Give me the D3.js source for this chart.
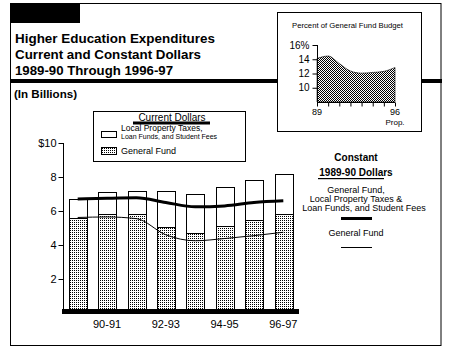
<!DOCTYPE html>
<html><head><meta charset="utf-8">
<script src="https://cdn.jsdelivr.net/npm/d3@7/dist/d3.min.js"></script>
<style>
html,body{margin:0;padding:0;background:#fff;}
text{font-family:"Liberation Sans",Arial,sans-serif;fill:#000;}
</style></head>
<body>
<svg id="c" width="451" height="350"></svg>
<script>
// ---- data ----
const categories = ["89-90","90-91","91-92","92-93","93-94","94-95","95-96","96-97"];
const tickLabels = ["90-91","92-93","94-95","96-97"];
const currentTotal = [6.7, 7.1, 7.2, 7.15, 7.0, 7.4, 7.8, 8.15];
const currentGeneralFund = [5.6, 5.85, 5.85, 5.05, 4.7, 5.1, 5.5, 5.85];
const constantTotal = [6.7, 6.75, 6.78, 6.5, 6.25, 6.3, 6.5, 6.6];
const constantGeneralFund = [5.62, 5.65, 5.55, 4.6, 4.25, 4.38, 4.55, 4.75];
const yTicks = [2, 4, 6, 8, 10];
const insetYears = [89, 90, 91, 92, 93, 94, 95, 96];
const insetPercent = [14.1, 14.45, 13.4, 12.35, 12.05, 12.15, 12.3, 12.85];
const insetTicks = [10, 12, 14, 16];

const svg = d3.select("#c");
const defs = svg.append("defs");
// dotted pattern
const pd = defs.append("pattern").attr("id","dots").attr("width",2).attr("height",2).attr("patternUnits","userSpaceOnUse");
pd.append("rect").attr("width",2).attr("height",2).attr("fill","#fff");
pd.append("rect").attr("width",1).attr("height",1).attr("fill","#000");
// checker pattern
const pc = defs.append("pattern").attr("id","check").attr("width",2).attr("height",2).attr("patternUnits","userSpaceOnUse");
pc.append("rect").attr("width",2).attr("height",2).attr("fill","#fff");
pc.append("rect").attr("width",1).attr("height",1).attr("fill","#000");
pc.append("rect").attr("x",1).attr("y",1).attr("width",1).attr("height",1).attr("fill","#000");

// frame
svg.append("rect").attr("x",10.5).attr("y",3.5).attr("width",430.5).attr("height",342).attr("fill","#fff").attr("stroke","#000");
svg.append("rect").attr("x",10).attr("y",3).attr("width",70).attr("height",20).attr("fill","#000");
svg.append("rect").attr("x",10).attr("y",79).attr("width",432).attr("height",4).attr("fill","#000");

// title
const titles = [["Higher Education Expenditures",43,200],["Current and Constant Dollars",59,186],["1989-90 Through 1996-97",75,158]];
titles.forEach(t=>{
  svg.append("text").attr("x",15).attr("y",t[1]).attr("font-size",13).attr("font-weight","bold")
    .attr("textLength",t[2]).attr("lengthAdjust","spacingAndGlyphs").text(t[0]);
});
svg.append("text").attr("x",14).attr("y",98).attr("font-size",10).attr("font-weight","bold")
  .attr("textLength",63).attr("lengthAdjust","spacingAndGlyphs").text("(In Billions)");

// ---- main chart ----
const x = d3.scaleBand().domain(categories).range([63,298]).paddingInner(0.4).paddingOuter(0.2);
const y = d3.scaleLinear().domain([0,10]).range([313,143]);
const g = svg.append("g");

// bars
g.selectAll("rect.tot").data(categories).join("rect").attr("class","tot")
  .attr("x",(d)=>Math.round(x(d))+0.5).attr("width",Math.round(x.bandwidth()))
  .attr("y",(d,i)=>Math.round(y(currentTotal[i]))+0.5).attr("height",(d,i)=>y(0)-Math.round(y(currentTotal[i])))
  .attr("fill","#fff").attr("stroke","#000");
g.selectAll("rect.gf").data(categories).join("rect").attr("class","gf")
  .attr("x",(d)=>Math.round(x(d))+0.5).attr("width",Math.round(x.bandwidth()))
  .attr("y",(d,i)=>Math.round(y(currentGeneralFund[i]))+0.5).attr("height",(d,i)=>y(0)-Math.round(y(currentGeneralFund[i])))
  .attr("fill","url(#dots)").attr("stroke","#000");

// lines
const cx = d=>x(d)+x.bandwidth()/2;
const lineT = d3.line().x((d,i)=>cx(categories[i])).y(d=>y(d)).curve(d3.curveMonotoneX);
g.append("path").attr("d",lineT(constantTotal)).attr("fill","none").attr("stroke","#000").attr("stroke-width",3);
g.append("path").attr("d",lineT(constantGeneralFund)).attr("fill","none").attr("stroke","#000").attr("stroke-width",1);

// baseline
svg.append("rect").attr("x",62).attr("y",309).attr("width",237).attr("height",5).attr("fill","#000");

// y axis
const ya = svg.append("g").attr("transform","translate(63.5,0)")
  .call(d3.axisLeft(y).tickValues(yTicks).tickSize(5).tickSizeOuter(0).tickPadding(2).tickFormat(d=>d===10?"$10":d));
ya.select(".domain").attr("d","M0,"+y(10)+"V309");
ya.selectAll("text").attr("font-size",11).attr("font-family","Liberation Sans, Arial, sans-serif");

// x axis
const xa = svg.append("g").attr("transform","translate(0,314)")
  .call(d3.axisBottom(x).tickValues(tickLabels).tickSize(0).tickPadding(6));
xa.select(".domain").remove();
xa.selectAll("text").attr("font-size",11).attr("font-family","Liberation Sans, Arial, sans-serif");

// current dollars legend
svg.append("rect").attr("x",93.5).attr("y",111.5).attr("width",152).attr("height",50).attr("fill","#fff").attr("stroke","#000");
svg.append("text").attr("x",172).attr("y",121).attr("text-anchor","middle").attr("font-size",10).text("Current Dollars");
svg.append("rect").attr("x",133).attr("y",121.5).attr("width",77).attr("height",3).attr("fill","#000");
svg.append("rect").attr("x",101.5).attr("y",131.5).attr("width",15).attr("height",6).attr("fill","#fff").attr("stroke","#000");
svg.append("rect").attr("x",101.5).attr("y",147.5).attr("width",15).attr("height",7).attr("fill","url(#dots)").attr("stroke","#000");
svg.append("text").attr("x",121).attr("y",131).attr("font-size",8.5).text("Local Property Taxes,");
svg.append("text").attr("x",121).attr("y",139).attr("font-size",7).text("Loan Funds, and Student Fees");
svg.append("text").attr("x",121).attr("y",154).attr("font-size",9).text("General Fund");

// constant dollars legend
const lc = 356;
svg.append("text").attr("x",lc).attr("y",161).attr("text-anchor","middle").attr("font-size",10).attr("font-weight","bold").text("Constant");
svg.append("text").attr("x",lc).attr("y",176).attr("text-anchor","middle").attr("font-size",10).attr("font-weight","bold").text("1989-90 Dollars");
svg.append("rect").attr("x",318).attr("y",178).attr("width",66).attr("height",1.2).attr("fill","#000");
svg.append("text").attr("x",lc).attr("y",193).attr("text-anchor","middle").attr("font-size",9).text("General Fund,");
svg.append("text").attr("x",lc).attr("y",202).attr("text-anchor","middle").attr("font-size",9).text("Local Property Taxes &");
svg.append("text").attr("x",lc+8).attr("y",211).attr("text-anchor","middle").attr("font-size",9).text("Loan Funds, and Student Fees");
svg.append("rect").attr("x",341).attr("y",217).attr("width",31).attr("height",3).attr("fill","#000");
svg.append("text").attr("x",lc).attr("y",236).attr("text-anchor","middle").attr("font-size",9).text("General Fund");
svg.append("rect").attr("x",341).attr("y",247).attr("width",31).attr("height",1).attr("fill","#000");

// ---- inset ----
svg.append("rect").attr("x",277.5).attr("y",12.5).attr("width",144).attr("height",119).attr("fill","#fff").attr("stroke","#000");
svg.append("text").attr("x",292).attr("y",28).attr("font-size",8).attr("textLength",111).attr("lengthAdjust","spacingAndGlyphs").text("Percent of General Fund Budget");
const ix = d3.scaleLinear().domain([89,96]).range([317,395]);
const iy = d3.scaleLinear().domain([8,16]).range([102,45]);
const area = d3.area().x((d,i)=>ix(insetYears[i])).y0(iy(8)).y1(d=>iy(d)).curve(d3.curveMonotoneX);
svg.append("path").attr("d",area(insetPercent)).attr("fill","url(#check)").attr("stroke","#000").attr("stroke-width",0.6);
const iya = svg.append("g").attr("transform","translate(317.5,0)")
  .call(d3.axisLeft(iy).tickValues(insetTicks).tickSize(5).tickSizeOuter(0).tickPadding(3).tickFormat(d=>d===16?"16%":d));
iya.select(".domain").attr("d","M0,"+iy(16)+"V102");
iya.selectAll("text").attr("font-size",10).attr("font-family","Liberation Sans, Arial, sans-serif");
const ixa = svg.append("g").attr("transform","translate(0,102.5)")
  .call(d3.axisBottom(ix).tickValues(insetYears).tickSize(4).tickSizeOuter(0).tickFormat(""));
ixa.select(".domain").attr("d","M317,0H395");
svg.append("text").attr("x",ix(89)).attr("y",115).attr("text-anchor","middle").attr("font-size",9).text("89");
svg.append("text").attr("x",ix(96)).attr("y",115).attr("text-anchor","middle").attr("font-size",9).text("96");
svg.append("text").attr("x",ix(96)).attr("y",125).attr("text-anchor","middle").attr("font-size",8).text("Prop.");
</script>
</body></html>
